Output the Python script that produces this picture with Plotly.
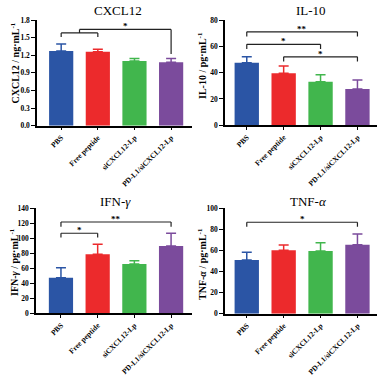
import plotly.graph_objects as go

# ---------------- data ----------------
categories = ["PBS", "Free peptide", "siCXCL12-Lp", "PD-L1/siCXCL12-Lp"]
colors = ["#2B55A5", "#EC2A2C", "#41B64D", "#7B4B9C"]

cxcl12_mean = [1.27, 1.26, 1.10, 1.08]
cxcl12_err = [0.12, 0.04, 0.045, 0.065]
il10_mean = [47.5, 39.5, 33.0, 27.6]
il10_err = [4.6, 5.6, 5.4, 6.8]
ifng_mean = [47.5, 78.7, 65.7, 89.7]
ifng_err = [13.3, 13.3, 4.4, 17.0]
tnfa_mean = [50.8, 60.0, 59.3, 65.3]
tnfa_err = [7.3, 5.0, 7.9, 10.1]

titles = ["CXCL12", "IL-10", "IFN-<i>γ</i>", "TNF-<i>α</i>"]
ytitles = ["<b>CXCL12 / ng·mL<sup>-1</sup></b>", "<b>IL-10 / pg·mL<sup>-1</sup></b>",
           "<b>IFN-<i>γ</i> / pg·mL<sup>-1</sup></b>", "<b>TNF-<i>α</i> / pg·mL<sup>-1</sup></b>"]
y_max = [1.8, 80, 140, 100]
y_dtick = [0.3, 20, 20, 20]
y_fmt = [".1f", "d", "d", "d"]

# significance brackets: (panel, left group, right group, bracket level, tail end, label)
brackets = [
    (1, 0, 3, 71.0, 67.5, "**"),
    (1, 0, 2, 61.5, 58.0, "*"),
    (1, 1, 3, 52.0, 48.5, "*"),
    (2, 0, 3, 121.7, 115.5, "**"),
    (2, 0, 1, 106.7, 101.0, "*"),
    (3, 0, 3, 86.5, 82.3, "*"),
]
# CXCL12 nested bracket: inner pair, inner level, inner tail, outer level, outer target, outer tail
cx_inner = (0, 1, 1.58, 1.51)
cx_outer = (1.64, 3, 1.22, "*")

means = [cxcl12_mean, il10_mean, ifng_mean, tnfa_mean]
errs = [cxcl12_err, il10_err, ifng_err, tnfa_err]

W, H = 386, 378
def px(x):
    return x / W
def py(y):
    return 1 - y / H

# plot area boxes in pixels: (x0, x1, ytop, ybottom)
boxes = [(37, 192, 20, 125.7), (225, 377, 20, 125.3), (36, 192, 208.3, 313.3), (225, 377, 208, 313.7)]
xranges = [[-0.66, 3.57], [-0.59, 3.53], [-0.68, 3.57], [-0.59, 3.53]]
title_pos = [(118, 11), (311, 11), (115, 201), (308, 201)]
ytitle_pos = [(14, 63.5), (202, 66), (14, 262), (202, 264)]

FONT = "Liberation Serif, Times New Roman, serif"

fig = go.Figure()
layout = dict(
    width=W, height=H, margin=dict(l=0, r=0, t=0, b=0),
    paper_bgcolor="white", plot_bgcolor="white",
    barmode="overlay", showlegend=False,
    font=dict(family=FONT, color="black"),
)
annotations = []
shapes = []

for p in range(4):
    n = "" if p == 0 else str(p + 1)
    for i in range(4):
        fig.add_trace(go.Bar(
            x=[i], y=[means[p][i]], width=0.66,
            marker=dict(color=colors[i], line=dict(width=0)),
            error_y=dict(type="data", array=[errs[p][i]], arrayminus=[0], symmetric=False,
                         color=colors[i], thickness=1.5, width=5),
            xaxis="x" + n, yaxis="y" + n, showlegend=False, hoverinfo="skip",
        ))
    x0, x1, yt, yb = boxes[p]
    layout["xaxis" + n] = dict(
        domain=[px(x0), px(x1)], range=xranges[p], anchor="y" + n,
        tickmode="array", tickvals=[0, 1, 2, 3], ticktext=categories, tickangle=-45,
        ticks="outside", ticklen=3, tickwidth=1.2, tickcolor="black",
        showline=True, linecolor="black", linewidth=1.5,
        showgrid=False, zeroline=False, automargin=False, ticklabeloverflow="allow",
        tickfont=dict(family=FONT, size=7.5, color="black", weight="bold"),
    )
    layout["yaxis" + n] = dict(
        domain=[py(yb), py(yt)], range=[0, y_max[p]], anchor="x" + n,
        dtick=y_dtick[p], tick0=0, tickformat=y_fmt[p],
        ticks="outside", ticklen=4, tickwidth=1.2, tickcolor="black",
        showline=True, linecolor="black", linewidth=1.5,
        showgrid=False, zeroline=False, automargin=False,
        tickfont=dict(family=FONT, size=7.5, color="black", weight="bold"),
    )
    tx, ty = title_pos[p]
    annotations.append(dict(text=titles[p], x=px(tx), y=py(ty), xref="paper", yref="paper",
                            showarrow=False, xanchor="center", yanchor="middle",
                            font=dict(family=FONT, size=13, color="black")))
    ax_, ay_ = ytitle_pos[p]
    annotations.append(dict(text=ytitles[p], x=px(ax_), y=py(ay_), xref="paper", yref="paper",
                            showarrow=False, xanchor="center", yanchor="middle", textangle=-90,
                            font=dict(family=FONT, size=10, color="black")))

LINE = dict(color="#222222", width=1.2)

def seg(n, xa, ya, xb, yb):
    shapes.append(dict(type="line", xref="x" + n, yref="y" + n, x0=xa, y0=ya, x1=xb, y1=yb, line=LINE))

def star(n, x, y, label):
    annotations.append(dict(text=label, x=x, y=y, xref="x" + n, yref="y" + n, showarrow=False,
                            xanchor="center", yanchor="bottom", yshift=-4,
                            font=dict(family=FONT, size=9, color="black", weight="bold")))

for (p, a, b, lvl, tail, label) in brackets:
    n = str(p + 1)
    seg(n, a, lvl, b, lvl)
    seg(n, a, lvl, a, tail)
    seg(n, b, lvl, b, tail)
    star(n, (a + b) / 2, lvl, label)

# CXCL12 nested bracket
ia, ib, ilvl, itail = cx_inner
olvl, ot, otail, olabel = cx_outer
seg("", ia, ilvl, ib, ilvl)
seg("", ia, ilvl, ia, itail)
seg("", ib, ilvl, ib, itail)
mid = (ia + ib) / 2
seg("", mid, ilvl, mid, olvl)
seg("", mid, olvl, ot, olvl)
seg("", ot, olvl, ot, otail)
star("", (mid + ot) / 2, olvl, olabel)

layout["annotations"] = annotations
layout["shapes"] = shapes
fig.update_layout(**layout)
fig.write_html("out.html", config={"displayModeBar": False},
               post_script="document.body.style.margin='0';document.body.style.overflow='hidden';")
